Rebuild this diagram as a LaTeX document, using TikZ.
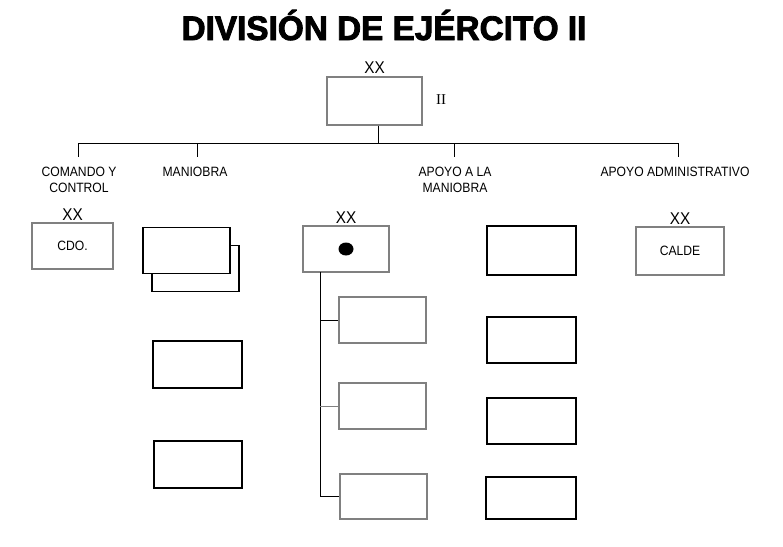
\documentclass[tikz,border=0pt]{standalone}
\usepackage{fontspec}
\setmainfont{Liberation Sans}
\newfontfamily\romanfont{Liberation Serif}
\newfontfamily\titlefont[FakeBold=2.5,FakeStretch=0.98]{Liberation Sans Bold}
\newfontfamily\narrowfont[FakeStretch=0.9]{Liberation Sans}
\usetikzlibrary{positioning}
\definecolor{boxgray}{gray}{0.5}
\tikzset{
 unit/.style={draw,fill=white,inner sep=0pt,line width=1.1pt,minimum width=87pt,minimum height=46pt,font=\narrowfont\fontsize{13.5}{15}\selectfont},
 grayunit/.style={unit,draw=boxgray},
 echelon/.style={inner sep=1pt,font=\narrowfont\fontsize{17}{18}\selectfont},
 branch/.style={align=center,inner sep=0pt,font=\narrowfont\fontsize{13.5}{15.5}\selectfont}
}
\begin{document}
\begin{tikzpicture}[x=1pt,y=-1pt,line width=1pt]
 \useasboundingbox (0,0) rectangle (783,546);
 % titulo
 \node[anchor=base,font=\titlefont\fontsize{34}{38}\selectfont] (titulo) at (384,40) {DIVISIÓN DE EJÉRCITO II};
 % division
 \node[grayunit,minimum width=95pt,minimum height=48pt] (div) at (374.5,101) {};
 \node[echelon,above=1pt of div] (divxx) {XX};
 \node[font=\romanfont\fontsize{15}{17}\selectfont] (divnum) at (441,100) {II};
 % barra y ramas
 \coordinate (bus) at (378,143);
 \coordinate (bA) at (78,143); \coordinate (bB) at (197,143);
 \coordinate (bC) at (454,143); \coordinate (bD) at (678,143);
 \draw (div.south -| bus) -- (bus);
 \draw (bA) -- (bD);
 \foreach \b in {bA,bB,bC,bD} \draw (\b) -- ++(0,14);
 \node[branch,anchor=north] (cyc) at (79,167) {COMANDO Y\\CONTROL};
 \node[branch,anchor=north] (man) at (195,167) {MANIOBRA};
 \node[branch,anchor=north] (apm) at (455,167) {APOYO A LA\\MANIOBRA};
 \node[branch,anchor=north] (apa) at (675,167) {APOYO ADMINISTRATIVO};
 % comando y control
 \node[grayunit,minimum width=81pt] (cdo) at (72.5,246) {CDO.};
 \node[echelon,above=0pt of cdo] (cdoxx) {XX};
 % maniobra
 \node[unit] (manB) at (195.5,268.5) {};
 \node[unit] (manA) at (186.5,250.5) {};
 \node[unit,minimum width=89pt,minimum height=47pt] (man2) at (197.5,364.5) {};
 \node[unit,minimum width=88pt,minimum height=47pt] (man3) at (198,464.5) {};
 % apoyo a la maniobra
 \node[grayunit,minimum width=86pt] (art) at (346,249) {};
 \fill (art.center) ellipse (7.5 and 6.5);
 \node[echelon,above=0pt of art] (artxx) {XX};
 \node[grayunit] (sub1) at (382.5,320) {};
 \node[grayunit] (sub2) at (382.5,406) {};
 \node[grayunit,minimum height=45pt] (sub3) at (383.5,496.5) {};
 \coordinate (trunk) at (320,272);
 \draw (trunk) |- (sub3.west);
 \draw (trunk |- sub1.west) -- (sub1.west);
 \draw[boxgray] (trunk |- sub2.west) -- (sub2.west);
 \node[unit,minimum width=89pt,minimum height=49pt] (apo1) at (531.5,250.5) {};
 \node[unit,minimum width=89pt] (apo2) at (531.5,340) {};
 \node[unit,minimum width=89pt] (apo3) at (531.5,421) {};
 \node[unit,minimum width=90pt,minimum height=42pt] (apo4) at (531,498) {};
 % apoyo administrativo
 \node[grayunit,minimum width=88pt,minimum height=48pt] (calde) at (680,251) {CALDE};
 \node[echelon,above=0pt of calde] (caldexx) {XX};
\end{tikzpicture}
\end{document}
